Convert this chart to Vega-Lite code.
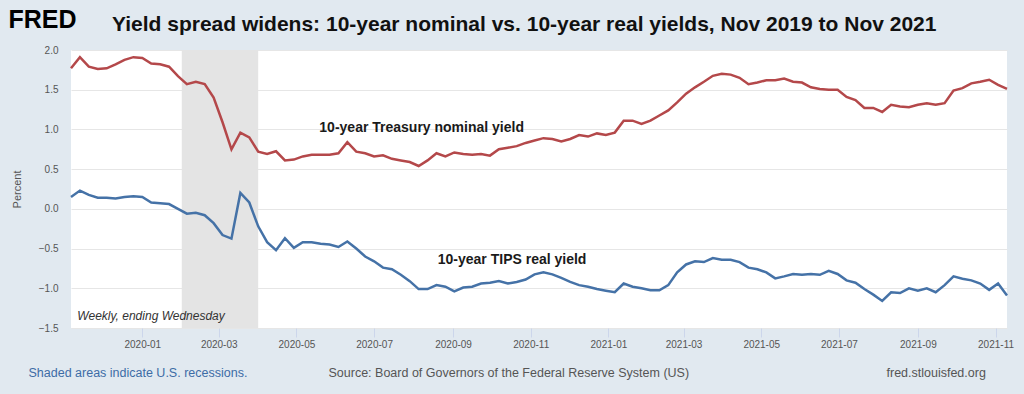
{
  "$schema": "https://vega.github.io/schema/vega-lite/v6.json",
  "width": 936,
  "height": 278,
  "autosize": {"type": "none"},
  "padding": {"left": 71, "top": 50, "right": 17, "bottom": 66},
  "background": "#e1e9f0",
  "config": {
    "view": {"fill": "white", "stroke": null},
    "font": "Liberation Sans",
    "legend": {"padding": 0}
  },
  "title": {
    "text": "Yield spread widens: 10-year nominal vs. 10-year real yields, Nov 2019 to Nov 2021",
    "anchor": "start",
    "frame": "group",
    "dx": 41,
    "offset": -45,
    "baseline": "alphabetic",
    "fontSize": 21,
    "fontWeight": "bold",
    "color": "#111111",
    "font": "Liberation Sans"
  },
  "datasets": {
    "yields": [
      {"date": "2019-11-06", "nominal": 1.77, "real": 0.15},
      {"date": "2019-11-13", "nominal": 1.91, "real": 0.23},
      {"date": "2019-11-20", "nominal": 1.79, "real": 0.175},
      {"date": "2019-11-27", "nominal": 1.76, "real": 0.14},
      {"date": "2019-12-04", "nominal": 1.77, "real": 0.14},
      {"date": "2019-12-11", "nominal": 1.82, "real": 0.13},
      {"date": "2019-12-18", "nominal": 1.875, "real": 0.15},
      {"date": "2019-12-25", "nominal": 1.91, "real": 0.16},
      {"date": "2020-01-01", "nominal": 1.9, "real": 0.15},
      {"date": "2020-01-08", "nominal": 1.83, "real": 0.08},
      {"date": "2020-01-15", "nominal": 1.82, "real": 0.07},
      {"date": "2020-01-22", "nominal": 1.79, "real": 0.06},
      {"date": "2020-01-29", "nominal": 1.67, "real": 0.0},
      {"date": "2020-02-05", "nominal": 1.57, "real": -0.06},
      {"date": "2020-02-12", "nominal": 1.6, "real": -0.05},
      {"date": "2020-02-19", "nominal": 1.57, "real": -0.08},
      {"date": "2020-02-26", "nominal": 1.4, "real": -0.18},
      {"date": "2020-03-04", "nominal": 1.09, "real": -0.33},
      {"date": "2020-03-11", "nominal": 0.75, "real": -0.375},
      {"date": "2020-03-18", "nominal": 0.96, "real": 0.2},
      {"date": "2020-03-25", "nominal": 0.9, "real": 0.08},
      {"date": "2020-04-01", "nominal": 0.72, "real": -0.22},
      {"date": "2020-04-08", "nominal": 0.69, "real": -0.42},
      {"date": "2020-04-15", "nominal": 0.725, "real": -0.52},
      {"date": "2020-04-22", "nominal": 0.61, "real": -0.37},
      {"date": "2020-04-29", "nominal": 0.62, "real": -0.49},
      {"date": "2020-05-06", "nominal": 0.66, "real": -0.42},
      {"date": "2020-05-13", "nominal": 0.68, "real": -0.42},
      {"date": "2020-05-20", "nominal": 0.68, "real": -0.44},
      {"date": "2020-05-27", "nominal": 0.68, "real": -0.45},
      {"date": "2020-06-03", "nominal": 0.7, "real": -0.48},
      {"date": "2020-06-10", "nominal": 0.84, "real": -0.41},
      {"date": "2020-06-17", "nominal": 0.72, "real": -0.5},
      {"date": "2020-06-24", "nominal": 0.7, "real": -0.6},
      {"date": "2020-07-01", "nominal": 0.66, "real": -0.66},
      {"date": "2020-07-08", "nominal": 0.675, "real": -0.74},
      {"date": "2020-07-15", "nominal": 0.63, "real": -0.76},
      {"date": "2020-07-22", "nominal": 0.61, "real": -0.83},
      {"date": "2020-07-29", "nominal": 0.59, "real": -0.91},
      {"date": "2020-08-05", "nominal": 0.54, "real": -1.01},
      {"date": "2020-08-12", "nominal": 0.61, "real": -1.01},
      {"date": "2020-08-19", "nominal": 0.7, "real": -0.96},
      {"date": "2020-08-26", "nominal": 0.66, "real": -0.98},
      {"date": "2020-09-02", "nominal": 0.71, "real": -1.04},
      {"date": "2020-09-09", "nominal": 0.69, "real": -0.99},
      {"date": "2020-09-16", "nominal": 0.68, "real": -0.98},
      {"date": "2020-09-23", "nominal": 0.69, "real": -0.94},
      {"date": "2020-09-30", "nominal": 0.67, "real": -0.93},
      {"date": "2020-10-07", "nominal": 0.75, "real": -0.91},
      {"date": "2020-10-14", "nominal": 0.77, "real": -0.94},
      {"date": "2020-10-21", "nominal": 0.79, "real": -0.92},
      {"date": "2020-10-28", "nominal": 0.83, "real": -0.89},
      {"date": "2020-11-04", "nominal": 0.86, "real": -0.825},
      {"date": "2020-11-11", "nominal": 0.89, "real": -0.8},
      {"date": "2020-11-18", "nominal": 0.88, "real": -0.825},
      {"date": "2020-11-25", "nominal": 0.85, "real": -0.87},
      {"date": "2020-12-02", "nominal": 0.88, "real": -0.92},
      {"date": "2020-12-09", "nominal": 0.93, "real": -0.96},
      {"date": "2020-12-16", "nominal": 0.91, "real": -0.98},
      {"date": "2020-12-23", "nominal": 0.95, "real": -1.01},
      {"date": "2020-12-30", "nominal": 0.93, "real": -1.03},
      {"date": "2021-01-06", "nominal": 0.96, "real": -1.05},
      {"date": "2021-01-13", "nominal": 1.11, "real": -0.94},
      {"date": "2021-01-20", "nominal": 1.11, "real": -0.98},
      {"date": "2021-01-27", "nominal": 1.07, "real": -1.0},
      {"date": "2021-02-03", "nominal": 1.11, "real": -1.025},
      {"date": "2021-02-10", "nominal": 1.175, "real": -1.025},
      {"date": "2021-02-17", "nominal": 1.24, "real": -0.96},
      {"date": "2021-02-24", "nominal": 1.34, "real": -0.8},
      {"date": "2021-03-03", "nominal": 1.45, "real": -0.7},
      {"date": "2021-03-10", "nominal": 1.53, "real": -0.66},
      {"date": "2021-03-17", "nominal": 1.6, "real": -0.67},
      {"date": "2021-03-24", "nominal": 1.675, "real": -0.62},
      {"date": "2021-03-31", "nominal": 1.7, "real": -0.64},
      {"date": "2021-04-07", "nominal": 1.69, "real": -0.64},
      {"date": "2021-04-14", "nominal": 1.65, "real": -0.67},
      {"date": "2021-04-21", "nominal": 1.57, "real": -0.74},
      {"date": "2021-04-28", "nominal": 1.59, "real": -0.76},
      {"date": "2021-05-05", "nominal": 1.62, "real": -0.8},
      {"date": "2021-05-12", "nominal": 1.62, "real": -0.875},
      {"date": "2021-05-19", "nominal": 1.64, "real": -0.85},
      {"date": "2021-05-26", "nominal": 1.6, "real": -0.82},
      {"date": "2021-06-02", "nominal": 1.59, "real": -0.83},
      {"date": "2021-06-09", "nominal": 1.53, "real": -0.82},
      {"date": "2021-06-16", "nominal": 1.51, "real": -0.83},
      {"date": "2021-06-23", "nominal": 1.5, "real": -0.78},
      {"date": "2021-06-30", "nominal": 1.5, "real": -0.82},
      {"date": "2021-07-07", "nominal": 1.41, "real": -0.9},
      {"date": "2021-07-14", "nominal": 1.37, "real": -0.93},
      {"date": "2021-07-21", "nominal": 1.27, "real": -1.01},
      {"date": "2021-07-28", "nominal": 1.27, "real": -1.08},
      {"date": "2021-08-04", "nominal": 1.22, "real": -1.16},
      {"date": "2021-08-11", "nominal": 1.31, "real": -1.05},
      {"date": "2021-08-18", "nominal": 1.29, "real": -1.06},
      {"date": "2021-08-25", "nominal": 1.28, "real": -1.0},
      {"date": "2021-09-01", "nominal": 1.31, "real": -1.03},
      {"date": "2021-09-08", "nominal": 1.33, "real": -1.0},
      {"date": "2021-09-15", "nominal": 1.31, "real": -1.05},
      {"date": "2021-09-22", "nominal": 1.33, "real": -0.96},
      {"date": "2021-09-29", "nominal": 1.49, "real": -0.85},
      {"date": "2021-10-06", "nominal": 1.52, "real": -0.88},
      {"date": "2021-10-13", "nominal": 1.58, "real": -0.9},
      {"date": "2021-10-20", "nominal": 1.6, "real": -0.94},
      {"date": "2021-10-27", "nominal": 1.625, "real": -1.02},
      {"date": "2021-11-03", "nominal": 1.56, "real": -0.94},
      {"date": "2021-11-10", "nominal": 1.51, "real": -1.09}
    ],
    "recessions": [
      {"start": "2020-02-01", "end": "2020-04-01", "label": "Shaded areas indicate U.S. recessions."}
    ],
    "labels": [
      {"date": "2020-05-19", "value": 1.02, "label": "10-year Treasury nominal yield"},
      {"date": "2020-08-20", "value": -0.65, "label": "10-year TIPS real yield"}
    ],
    "notes": [
      {"date": "2019-11-11", "value": -1.35, "label": "Weekly, ending Wednesday"}
    ]
  },
  "layer": [
    {
      "data": {"name": "recessions"},
      "mark": {"type": "rect"},
      "encoding": {
        "x": {"field": "start", "type": "temporal", "scale": {"type": "utc", "domain": [{"year": 2019, "month": 11, "date": 6, "utc": true}, {"year": 2021, "month": 11, "date": 10, "utc": true}]}, "axis": null},
        "x2": {"field": "end"},
        "fill": {
          "field": "label",
          "type": "nominal",
          "scale": {"range": ["#e4e4e4"]},
          "legend": {
            "orient": "none",
            "legendX": -55,
            "legendY": 317,
            "title": null,
            "symbolSize": 0,
            "symbolOpacity": 0,
            "symbolStrokeWidth": 0,
            "labelOffset": 0,
            "labelFontSize": 12.5,
            "labelColor": "#3d6ca6",
            "labelFont": "Liberation Sans",
            "labelLimit": 400
          }
        }
      }
    },
    {
      "data": {"name": "yields"},
      "mark": {"type": "line", "color": "#b4484a", "strokeWidth": 2.5},
      "encoding": {
        "x": {
          "field": "date",
          "type": "temporal",
          "axis": {
            "values": [
              {"year": 2020, "month": 1, "date": 1, "utc": true},
              {"year": 2020, "month": 3, "date": 1, "utc": true},
              {"year": 2020, "month": 5, "date": 1, "utc": true},
              {"year": 2020, "month": 7, "date": 1, "utc": true},
              {"year": 2020, "month": 9, "date": 1, "utc": true},
              {"year": 2020, "month": 11, "date": 1, "utc": true},
              {"year": 2021, "month": 1, "date": 1, "utc": true},
              {"year": 2021, "month": 3, "date": 1, "utc": true},
              {"year": 2021, "month": 5, "date": 1, "utc": true},
              {"year": 2021, "month": 7, "date": 1, "utc": true},
              {"year": 2021, "month": 9, "date": 1, "utc": true},
              {"year": 2021, "month": 11, "date": 1, "utc": true}
            ],
            "format": "%Y-%m",
            "grid": false,
            "domain": false,
            "ticks": true,
            "tickColor": "#ccd6eb",
            "tickSize": 9,
            "labelPadding": 2,
            "labelFontSize": 10,
            "labelColor": "#555555",
            "labelFont": "Liberation Sans",
            "title": "Source: Board of Governors of the Federal Reserve System (US)",
            "titleX": 257,
            "titleY": 48,
            "titleAlign": "left",
            "titleBaseline": "alphabetic",
            "titleFontSize": 12.5,
            "titleFontWeight": "normal",
            "titleColor": "#555555",
            "titleFont": "Liberation Sans"
          }
        },
        "y": {
          "field": "nominal",
          "type": "quantitative",
          "scale": {"domain": [-1.5, 2.0], "nice": false, "zero": false},
          "axis": {
            "values": [-1.5, -1, -0.5, 0, 0.5, 1, 1.5, 2],
            "format": ".1f",
            "grid": true,
            "gridColor": "#e6e6e6",
            "ticks": false,
            "domain": false,
            "labelPadding": 13,
            "labelFontSize": 10,
            "labelColor": "#555555",
            "labelFont": "Liberation Sans",
            "title": "Percent",
            "titleX": -54,
            "titleY": 139,
            "titleAngle": -90,
            "titleAlign": "center",
            "titleBaseline": "middle",
            "titleFontSize": 11,
            "titleFontWeight": "normal",
            "titleColor": "#555555",
            "titleFont": "Liberation Sans"
          }
        }
      }
    },
    {
      "data": {"name": "yields"},
      "mark": {"type": "line", "color": "#4572a7", "strokeWidth": 2.5},
      "encoding": {
        "x": {"field": "date", "type": "temporal", "axis": null},
        "y": {"field": "real", "type": "quantitative", "axis": null}
      }
    },
    {
      "mark": {"type": "rule", "color": "#000000", "strokeWidth": 2},
      "encoding": {
        "y": {
          "datum": 0,
          "type": "quantitative",
          "axis": {
            "orient": "right",
            "labels": false,
            "ticks": false,
            "domain": false,
            "grid": false,
            "title": "fred.stlouisfed.org",
            "titleAngle": 0,
            "titleX": -121,
            "titleY": 326,
            "titleAlign": "left",
            "titleBaseline": "alphabetic",
            "titleFontSize": 12.5,
            "titleFontWeight": "normal",
            "titleColor": "#555555",
            "titleFont": "Liberation Sans"
          }
        }
      }
    },
    {
      "data": {"name": "labels"},
      "mark": {"type": "text", "align": "left", "baseline": "middle", "fontSize": 14, "fontWeight": "bold", "color": "#1a1a1a", "font": "Liberation Sans"},
      "encoding": {
        "x": {
          "field": "date",
          "type": "temporal",
          "axis": {
            "orient": "top",
            "labels": false,
            "ticks": false,
            "domain": false,
            "grid": false,
            "title": "FRED",
            "titleX": -63,
            "titleY": -23,
            "titleAngle": 0,
            "titleAlign": "left",
            "titleBaseline": "alphabetic",
            "titleFontSize": 25,
            "titleFontWeight": "bold",
            "titleColor": "#000000",
            "titleFont": "Liberation Sans"
          }
        },
        "y": {"field": "value", "type": "quantitative", "axis": null},
        "text": {"field": "label"}
      }
    },
    {
      "data": {"name": "notes"},
      "mark": {"type": "text", "align": "left", "baseline": "middle", "fontSize": 12, "fontStyle": "italic", "color": "#333333", "font": "Liberation Sans"},
      "encoding": {
        "x": {"field": "date", "type": "temporal", "axis": null},
        "y": {"field": "value", "type": "quantitative", "axis": null},
        "text": {"field": "label"}
      }
    }
  ],
  "resolve": {"axis": {"x": "independent", "y": "independent"}}
}
